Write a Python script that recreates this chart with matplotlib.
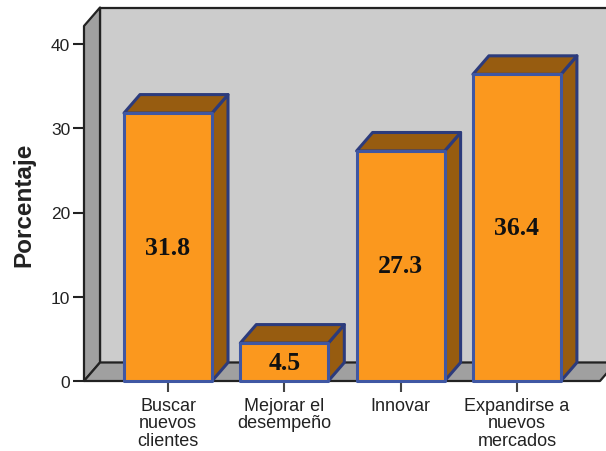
import numpy as np
import matplotlib
matplotlib.use("Agg")
import matplotlib.pyplot as plt
from matplotlib.patches import Polygon

categories = ["Buscar\nnuevos\nclientes", "Mejorar el\ndesempeño", "Innovar", "Expandirse a\nnuevos\nmercados"]
values = [31.8, 4.5, 27.3, 36.4]
y_ticks = [0, 10, 20, 30, 40]

orange = "#fb981e"
brown = "#975c10"
edge = "#3f57a3"
dark_edge = "#2c3b7c"
wall = "#cccccc"
side = "#a0a0a0"
line = "#222222"

W, H = 606, 452
px_x = 116.3   # pixels per category
px_y = 8.425   # pixels per percent
dx = 16 / px_x
dy = 18.5 / px_y
half = 44 / px_x

plt.rcParams["font.family"] = ["Liberation Sans", "DejaVu Sans"]

fig = plt.figure(figsize=(W / 100, H / 100), dpi=100)
ax = fig.add_axes([84 / W, (H - 382) / H, (W - 84) / W, 355 / H])
ax.set_xlim((84 - 168) / px_x, (W - 168) / px_x)
ax.set_ylim(0, 355 / px_y)
ax.patch.set_visible(False)

x0 = ax.get_xlim()[0]
x1 = (600 - 168) / px_x
top = ax.get_ylim()[1]


def poly(pts, fc, ec=line, lw=1.6, z=1):
    ax.add_patch(Polygon(pts, closed=True, fc=fc, ec=ec, lw=lw, clip_on=False, zorder=z, joinstyle="round"))


# walls and floor
poly([(x0 + dx, dy), (x1 + dx, dy), (x1 + dx, top + dy), (x0 + dx, top + dy)], wall)
poly([(x0, 0), (x0 + dx, dy), (x0 + dx, top + dy), (x0, top)], side)
poly([(x0, 0), (x1, 0), (x1 + dx, dy), (x0 + dx, dy)], side)

for i, v in enumerate(values):
    l, r = i - half, i + half
    poly([(r, 0), (r + dx, dy), (r + dx, v + dy), (r, v)], brown, ec=dark_edge, lw=2.2, z=3)
    poly([(l, v), (r, v), (r + dx, v + dy), (l + dx, v + dy)], brown, ec=dark_edge, lw=2.2, z=3)
    poly([(l, 0), (r, 0), (r, v), (l, v)], orange, ec=edge, lw=2.2, z=4)
    ax.text(i, v / 2, f"{v}", ha="center", va="center", fontsize=18.5, fontweight="bold",
            family="Liberation Serif", color="#111111", zorder=5)

for s in ["top", "right", "bottom", "left"]:
    ax.spines[s].set_visible(False)

ax.set_xticks(np.arange(len(categories)))
ax.set_xticklabels(categories, fontsize=13, linespacing=1.03, color="#222222")
ax.set_yticks(y_ticks)
ax.tick_params(axis="y", length=8, width=1.5, color=line, labelsize=12.5, pad=2, labelcolor="#222222")
ax.tick_params(axis="x", length=8, width=1.5, color="#444444", pad=3.5)
ax.set_ylabel("Porcentaje", fontsize=17.5, fontweight="bold", color="#222222", labelpad=11)

fig.savefig("out.png", dpi=100)
